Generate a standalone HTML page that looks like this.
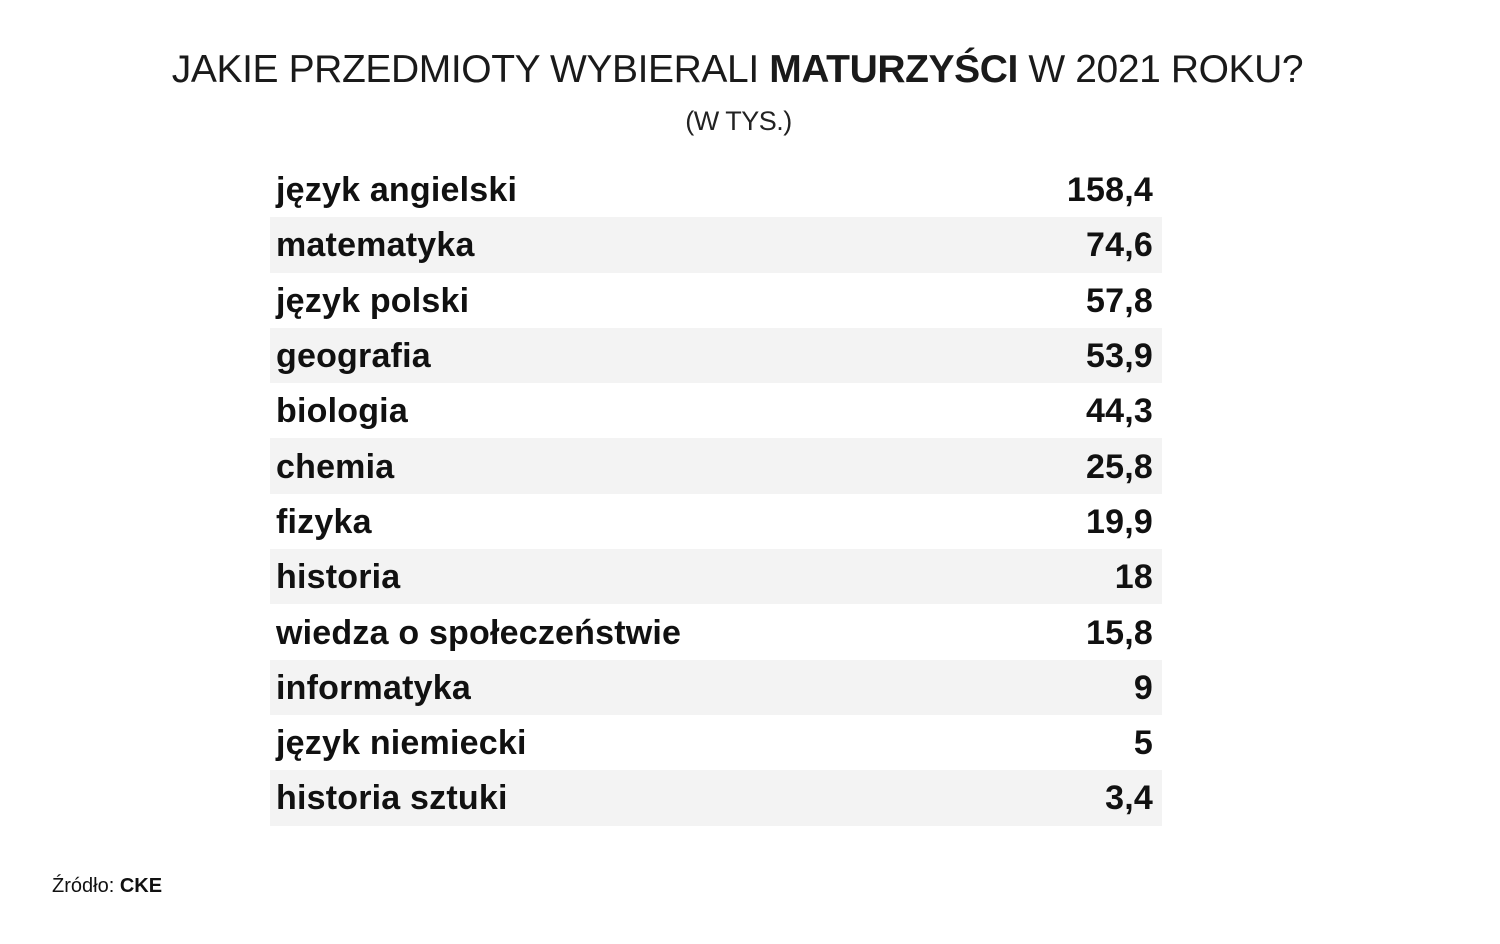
<!DOCTYPE html>
<html><head><meta charset="utf-8"><style>
body{margin:0;width:1500px;height:944px;background:#fff;font-family:"Liberation Sans","DejaVu Sans",sans-serif;color:#111;position:relative;overflow:hidden}
.t{position:absolute;left:0;width:1475px;text-align:center;top:48px;font-size:39px;font-weight:300;letter-spacing:-0.4px;color:#1a1a1a}
.s{position:absolute;left:0;width:1477px;text-align:center;top:106px;font-size:27px;color:#222;letter-spacing:-0.5px}
.tbl{position:absolute;left:270px;top:162px;width:892px}
.r{height:55.3px;display:flex;justify-content:space-between;align-items:center;padding:2px 9px 0 6px;font-weight:bold;font-size:34px;letter-spacing:0.2px;box-sizing:border-box}
.r:nth-child(even){background:#f3f3f3}
.src{position:absolute;left:52px;top:875px;font-size:20px}
</style></head><body>
<div class="t">JAKIE PRZEDMIOTY WYBIERALI <b style="font-weight:bold">MATURZYŚCI</b> W 2021 ROKU?</div>
<div class="s">(W TYS.)</div>
<div class="tbl">
<div class="r"><span>język angielski</span><span>158,4</span></div>
<div class="r"><span>matematyka</span><span>74,6</span></div>
<div class="r"><span>język polski</span><span>57,8</span></div>
<div class="r"><span>geografia</span><span>53,9</span></div>
<div class="r"><span>biologia</span><span>44,3</span></div>
<div class="r"><span>chemia</span><span>25,8</span></div>
<div class="r"><span>fizyka</span><span>19,9</span></div>
<div class="r"><span>historia</span><span>18</span></div>
<div class="r"><span>wiedza o społeczeństwie</span><span>15,8</span></div>
<div class="r"><span>informatyka</span><span>9</span></div>
<div class="r"><span>język niemiecki</span><span>5</span></div>
<div class="r"><span>historia sztuki</span><span>3,4</span></div>
</div>
<div class="src">Źródło: <b>CKE</b></div>
</body></html>
